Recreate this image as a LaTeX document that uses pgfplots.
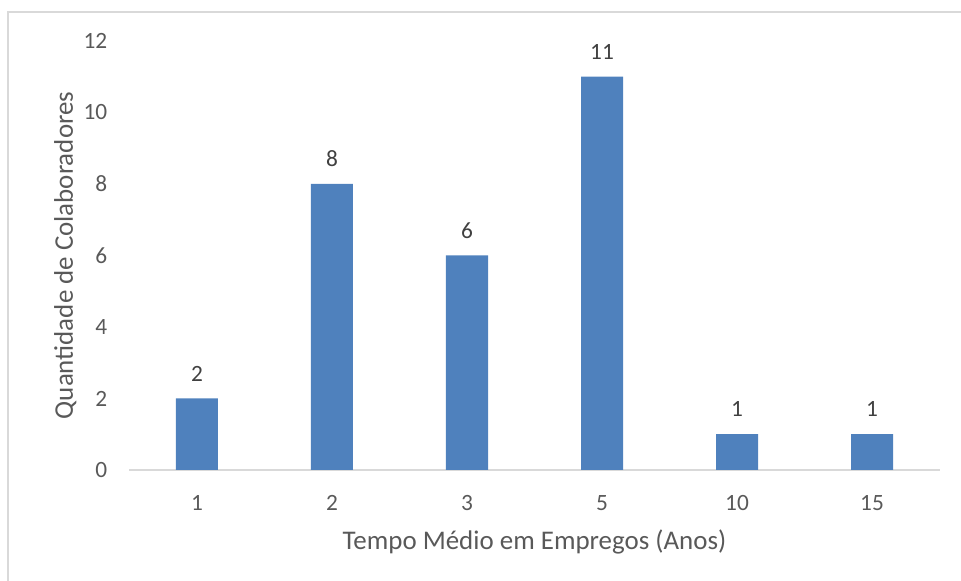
\documentclass[border=0pt]{standalone}
\usepackage{fontspec}
\setmainfont{Carlito}
\usepackage{pgfplots}
\pgfplotsset{compat=1.18}
\definecolor{barblue}{HTML}{4F81BD}
\definecolor{ticktext}{HTML}{595959}
\definecolor{labtext}{HTML}{404040}
\definecolor{axisgray}{HTML}{D9D9D9}
\begin{document}
\begin{tikzpicture}
\path[use as bounding box] (-97.125pt,-83.25pt) rectangle (623.625pt,352.5pt);
\draw[axisgray, line width=1.5pt] (-91.125pt,-83.25pt) -- (-91.125pt,343.5pt) -- (623.625pt,343.5pt);
\begin{axis}[
  at={(0,0)}, anchor=south west,
  scale only axis,
  width=607.5pt, height=321.75pt,
  xmin=-0.5, xmax=5.5, ymin=0, ymax=12,
  ybar, bar width=31.5pt,
  axis x line*=bottom, axis y line*=left,
  y axis line style={draw=none},
  x axis line style={axisgray, line width=1.5pt, -},
  major tick length=0pt,
  xtick={0,1,2,3,4,5},
  xticklabels={1,2,3,5,10,15},
  ytick={0,2,4,6,8,10,12},
  /pgf/number format/assume math mode=true,
  ticklabel style={font=\fontsize{17.5}{20}\selectfont, text=ticktext, inner sep=0pt},
  xticklabel style={anchor=north, yshift=-18.75pt},
  yticklabel style={anchor=east, xshift=-16.5pt},
  xlabel={Tempo Médio em Empregos (Anos)},
  ylabel={Quantidade de Colaboradores},
  label style={font=\fontsize{20.2}{24}\selectfont, text=ticktext, inner sep=0pt},
  xlabel style={at={(axis description cs:0.5,0)}, anchor=base, yshift=-60pt},
  ylabel style={at={(axis description cs:-0.0698,0.5)}, anchor=base},
  nodes near coords,
  every node near coord/.append style={font=\fontsize{17.5}{20}\selectfont, text=labtext, anchor=south, inner sep=0pt, yshift=12.75pt},
  clip=false,
]
\addplot[fill=barblue, draw=none] coordinates {(0,2) (1,8) (2,6) (3,11) (4,1) (5,1)};
\end{axis}
\end{tikzpicture}
\end{document}
